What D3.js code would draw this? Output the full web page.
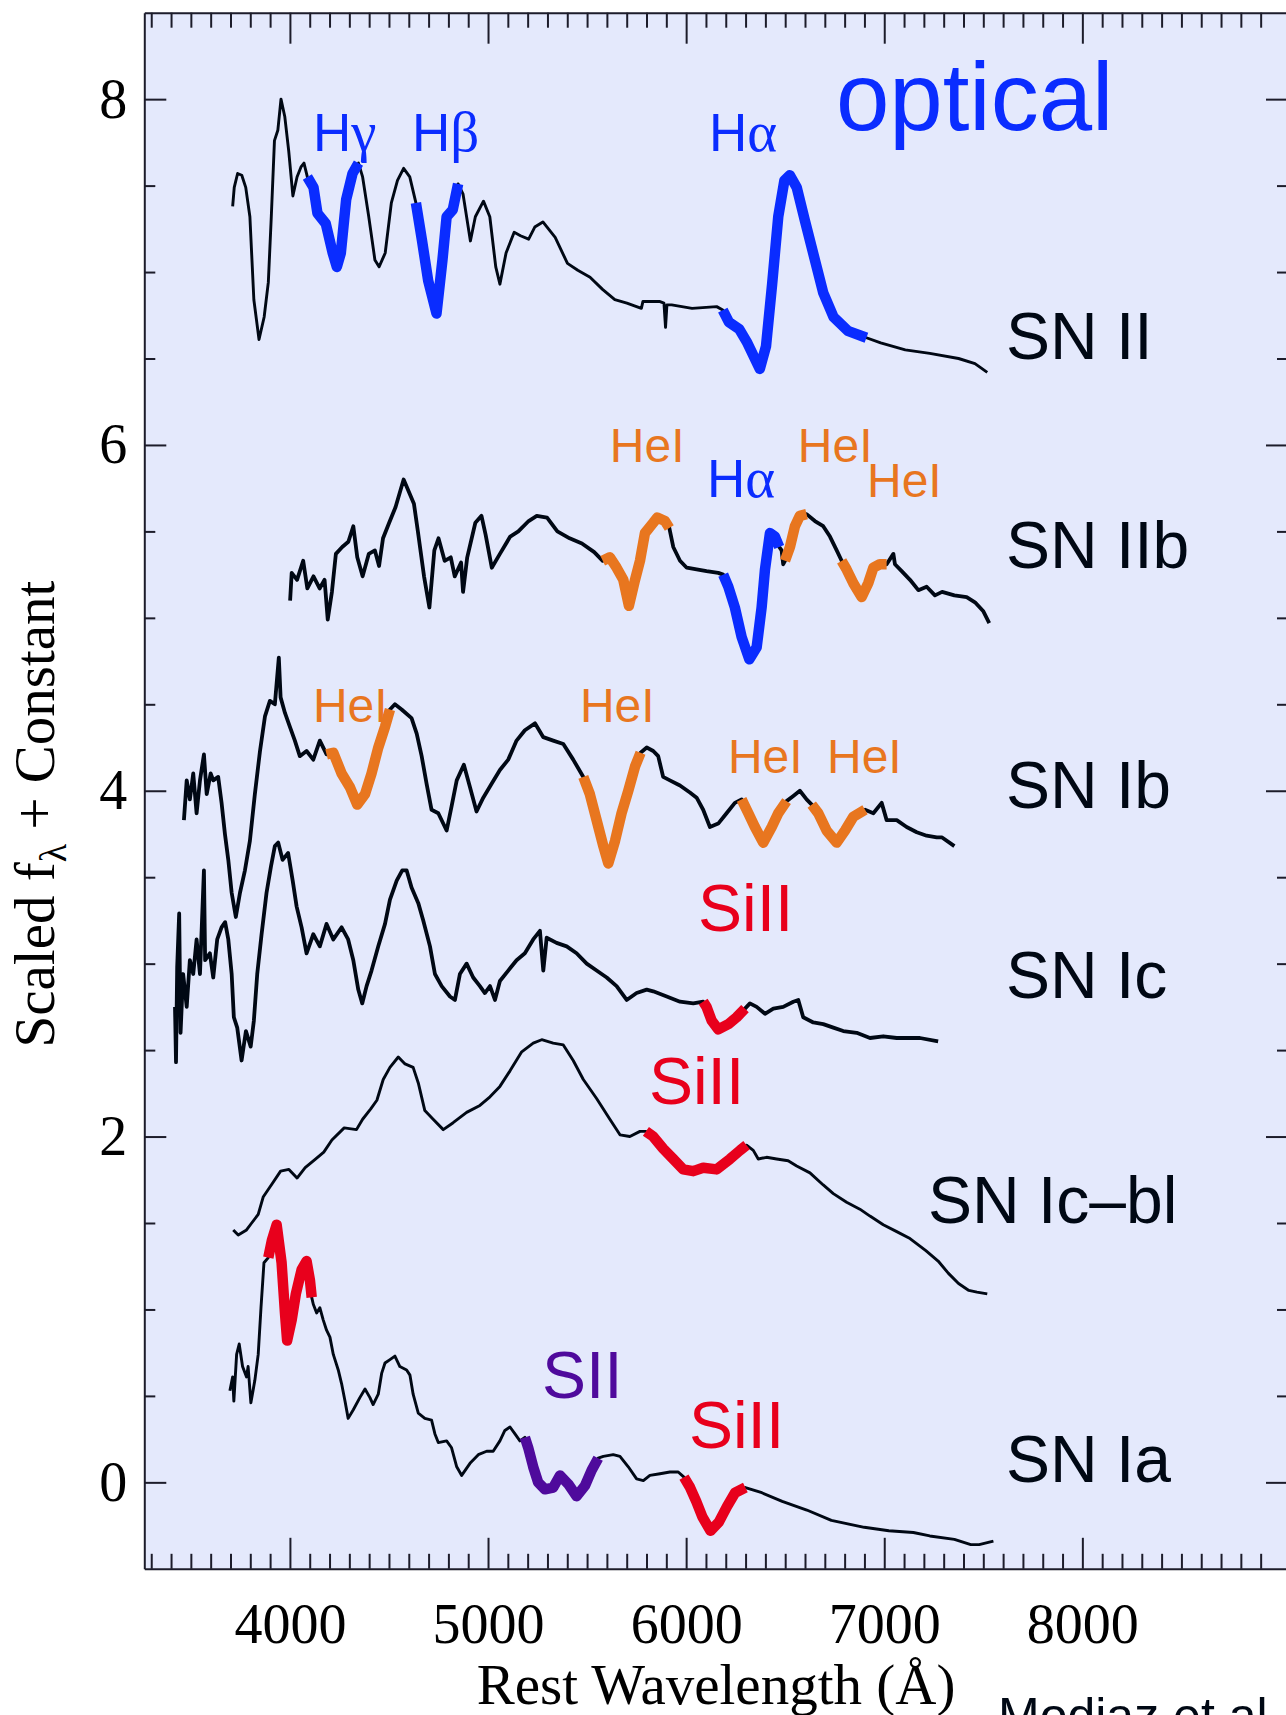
<!DOCTYPE html>
<html>
<head>
<meta charset="utf-8">
<script src="https://cdn.jsdelivr.net/npm/d3@7"></script>
<style>
  body { margin: 0; background: #fff; }
  svg { display: block; }
</style>
</head>
<body>
<div id="chart"></div>
<script>
// Spectra: [rest wavelength (Å), scaled flux + constant]
const snII = [
  [3711,7.38],[3719,7.49],[3736,7.57],[3757,7.56],[3777,7.49],[3798,7.32],[3818,6.84],[3844,6.61],[3870,6.74],[3891,6.94],
  [3906,7.32],[3922,7.76],[3939,7.82],[3955,8.00],[3974,7.90],[3994,7.70],[4015,7.44],[4036,7.55],[4057,7.61],[4071,7.63],
  [4088,7.55],[4119,7.49],[4139,7.34],[4181,7.28],[4216,7.11],[4237,7.03],[4257,7.11],[4284,7.42],[4316,7.57],[4346,7.63],
  [4367,7.55],[4398,7.32],[4429,7.07],[4450,7.03],[4481,7.11],[4512,7.40],[4543,7.53],[4574,7.60],[4605,7.55],[4636,7.40],
  [4667,7.18],[4698,6.95],[4740,6.76],[4770,7.07],[4791,7.32],[4822,7.36],[4849,7.51],[4874,7.45],[4911,7.18],[4936,7.32],
  [4977,7.41],[5009,7.32],[5039,7.03],[5060,6.93],[5091,7.11],[5132,7.23],[5164,7.21],[5205,7.19],[5236,7.26],[5277,7.29],
  [5339,7.20],[5401,7.05],[5453,7.01],[5515,6.97],[5578,6.90],[5640,6.84],[5701,6.82],[5774,6.79],[5782,6.83],[5865,6.83],
  [5888,6.82],[5896,6.68],[5903,6.81],[5927,6.81],[6030,6.79],[6154,6.80],[6185,6.78],[6216,6.71],[6268,6.67],[6309,6.59],
  [6372,6.44],[6403,6.57],[6434,6.93],[6465,7.32],[6496,7.53],[6523,7.56],[6558,7.49],[6599,7.30],[6641,7.11],[6692,6.88],
  [6744,6.74],[6816,6.66],[6910,6.62],[6982,6.59],[7106,6.55],[7230,6.53],[7375,6.50],[7458,6.47],[7520,6.42]
];
const snIIb = [
  [4001,5.10],[4009,5.26],[4036,5.22],[4067,5.33],[4088,5.17],[4119,5.24],[4150,5.17],[4175,5.22],[4191,4.99],[4212,5.15],
  [4232,5.37],[4264,5.41],[4295,5.44],[4320,5.53],[4340,5.35],[4367,5.24],[4398,5.37],[4429,5.39],[4450,5.30],[4470,5.46],
  [4501,5.55],[4533,5.64],[4574,5.80],[4626,5.66],[4646,5.50],[4677,5.24],[4704,5.06],[4729,5.39],[4750,5.46],[4781,5.33],
  [4812,5.35],[4832,5.24],[4864,5.32],[4874,5.15],[4895,5.35],[4936,5.55],[4967,5.59],[4988,5.48],[5019,5.29],[5060,5.37],
  [5112,5.47],[5153,5.50],[5205,5.56],[5246,5.59],[5298,5.58],[5350,5.50],[5412,5.46],[5474,5.43],[5536,5.38],[5579,5.33],
  [5615,5.35],[5649,5.29],[5683,5.22],[5711,5.07],[5742,5.22],[5767,5.33],[5792,5.49],[5834,5.55],[5854,5.58],[5893,5.56],
  [5915,5.52],[5935,5.41],[5969,5.33],[6003,5.29],[6053,5.28],[6103,5.27],[6162,5.26],[6187,5.25],[6213,5.18],[6246,5.06],
  [6280,4.89],[6319,4.76],[6356,4.83],[6381,5.06],[6398,5.28],[6423,5.49],[6448,5.47],[6470,5.41],[6482,5.39],[6490,5.31],
  [6499,5.33],[6524,5.41],[6549,5.53],[6574,5.59],[6608,5.60],[6650,5.56],[6692,5.53],[6726,5.47],[6760,5.39],[6785,5.33],
  [6810,5.28],[6844,5.20],[6886,5.12],[6919,5.20],[6945,5.29],[6978,5.31],[7012,5.31],[7046,5.37],[7054,5.31],[7088,5.27],
  [7130,5.22],[7172,5.16],[7214,5.18],[7256,5.13],[7292,5.15],[7354,5.13],[7416,5.12],[7458,5.09],[7499,5.04],[7530,4.97]
];
const snIb = [
  [3465,3.83],[3479,4.06],[3495,3.95],[3512,4.10],[3529,3.87],[3546,4.06],[3566,4.21],[3580,3.98],[3600,4.10],[3613,4.06],
  [3638,4.08],[3655,3.93],[3672,3.75],[3689,3.60],[3706,3.41],[3727,3.27],[3748,3.41],[3773,3.54],[3798,3.71],[3823,3.98],
  [3849,4.23],[3874,4.43],[3899,4.52],[3924,4.50],[3944,4.77],[3953,4.54],[3975,4.45],[4000,4.37],[4025,4.29],[4050,4.20],
  [4084,4.23],[4118,4.18],[4151,4.29],[4185,4.21],[4219,4.22],[4261,4.10],[4303,4.02],[4340,3.92],[4379,3.98],[4412,4.10],
  [4446,4.25],[4480,4.37],[4505,4.47],[4530,4.50],[4564,4.47],[4614,4.42],[4640,4.33],[4665,4.20],[4690,4.04],[4715,3.89],
  [4749,3.87],[4791,3.77],[4816,3.91],[4842,4.06],[4878,4.15],[4909,4.02],[4942,3.88],[4976,3.96],[5018,4.04],[5060,4.12],
  [5102,4.18],[5144,4.29],[5186,4.35],[5237,4.39],[5279,4.31],[5329,4.29],[5380,4.27],[5430,4.18],[5481,4.08],[5514,3.98],
  [5548,3.83],[5582,3.68],[5607,3.58],[5641,3.71],[5674,3.87],[5708,4.00],[5742,4.14],[5770,4.22],[5801,4.25],[5834,4.23],
  [5859,4.20],[5884,4.08],[5918,4.06],[5969,4.03],[6019,3.99],[6053,3.96],[6086,3.89],[6120,3.79],[6162,3.81],[6204,3.87],
  [6246,3.93],[6280,3.95],[6314,3.87],[6347,3.79],[6389,3.70],[6432,3.79],[6465,3.87],[6507,3.94],[6541,3.97],[6574,4.00],
  [6608,3.95],[6634,3.92],[6667,3.87],[6709,3.77],[6760,3.70],[6802,3.77],[6844,3.85],[6903,3.89],[6945,3.87],[6987,3.93],
  [7012,3.83],[7063,3.83],[7113,3.79],[7164,3.76],[7214,3.74],[7265,3.73],[7292,3.73],[7354,3.68]
];
const snIc = [
  [3420,2.75],[3425,2.43],[3431,2.98],[3441,3.29],[3448,2.60],[3461,2.94],[3479,2.75],[3495,3.02],[3512,2.94],[3529,3.14],
  [3546,2.94],[3566,3.54],[3572,3.02],[3596,3.06],[3613,2.92],[3633,3.14],[3655,3.21],[3673,3.24],[3689,3.14],[3706,2.94],
  [3717,2.69],[3734,2.63],[3756,2.44],[3778,2.61],[3802,2.52],[3818,2.67],[3835,2.94],[3857,3.17],[3882,3.41],[3904,3.56],
  [3924,3.68],[3941,3.70],[3963,3.60],[3991,3.64],[4014,3.48],[4034,3.33],[4059,3.21],[4084,3.06],[4118,3.17],[4151,3.10],
  [4185,3.23],[4219,3.14],[4261,3.21],[4294,3.14],[4320,3.02],[4345,2.85],[4365,2.77],[4387,2.87],[4412,2.96],[4446,3.10],
  [4480,3.23],[4505,3.37],[4539,3.48],[4567,3.54],[4589,3.54],[4614,3.44],[4648,3.35],[4673,3.25],[4707,3.10],[4732,2.94],
  [4766,2.87],[4808,2.81],[4833,2.79],[4858,2.94],[4892,3.00],[4925,2.92],[4959,2.87],[4984,2.83],[5010,2.87],[5035,2.79],
  [5060,2.90],[5102,2.96],[5144,3.02],[5186,3.06],[5228,3.14],[5262,3.19],[5279,2.96],[5296,3.15],[5346,3.12],[5397,3.10],
  [5447,3.06],[5498,3.00],[5548,2.96],[5599,2.92],[5649,2.87],[5700,2.79],[5750,2.83],[5801,2.85],[5834,2.84],[5902,2.81],
  [5969,2.78],[6036,2.77],[6086,2.78],[6103,2.75],[6129,2.67],[6162,2.62],[6213,2.65],[6255,2.69],[6297,2.74],[6322,2.77],
  [6356,2.75],[6398,2.71],[6440,2.74],[6490,2.75],[6541,2.78],[6566,2.79],[6591,2.69],[6642,2.66],[6692,2.65],[6743,2.63],
  [6793,2.61],[6861,2.60],[6928,2.57],[6995,2.58],[7063,2.57],[7130,2.57],[7180,2.57],[7272,2.55]
];
const snIcbl = [
  [3714,1.46],[3739,1.43],[3781,1.46],[3807,1.50],[3840,1.55],[3865,1.65],[3912,1.73],[3953,1.80],[3995,1.81],[4036,1.76],
  [4077,1.82],[4129,1.87],[4171,1.91],[4212,1.98],[4274,2.05],[4336,2.04],[4367,2.10],[4408,2.16],[4439,2.21],[4471,2.33],
  [4505,2.40],[4547,2.46],[4581,2.42],[4622,2.40],[4648,2.31],[4681,2.15],[4723,2.10],[4774,2.04],[4824,2.08],[4892,2.14],
  [4959,2.18],[5010,2.23],[5060,2.29],[5111,2.38],[5170,2.49],[5228,2.54],[5271,2.56],[5329,2.54],[5380,2.53],[5430,2.44],
  [5481,2.33],[5548,2.22],[5615,2.10],[5666,2.01],[5716,2.00],[5767,2.03],[5797,2.03],[5834,2.00],[5884,1.93],[5935,1.87],
  [5985,1.81],[6036,1.80],[6086,1.82],[6154,1.81],[6221,1.87],[6272,1.92],[6305,1.95],[6339,1.92],[6364,1.87],[6406,1.88],
  [6457,1.87],[6515,1.86],[6558,1.83],[6625,1.79],[6692,1.72],[6743,1.67],[6810,1.62],[6877,1.58],[6928,1.54],[6995,1.49],
  [7063,1.45],[7130,1.41],[7210,1.34],[7272,1.28],[7323,1.21],[7375,1.15],[7427,1.11],[7468,1.10],[7520,1.09]
];
const snIa = [
  [3697,0.53],[3711,0.61],[3717,0.47],[3731,0.74],[3744,0.80],[3761,0.67],[3781,0.61],[3789,0.67],[3803,0.46],[3823,0.59],
  [3840,0.74],[3854,1.01],[3869,1.27],[3891,1.30],[3909,1.40],[3933,1.49],[3958,1.27],[3975,0.98],[3986,0.82],[4009,0.94],
  [4030,1.09],[4059,1.23],[4084,1.28],[4101,1.17],[4110,1.07],[4118,1.03],[4135,0.98],[4151,1.01],[4168,0.94],[4185,0.88],
  [4202,0.84],[4219,0.74],[4244,0.65],[4261,0.57],[4278,0.47],[4294,0.37],[4320,0.42],[4353,0.49],[4379,0.54],[4404,0.49],
  [4420,0.45],[4446,0.51],[4463,0.63],[4480,0.69],[4505,0.71],[4530,0.73],[4555,0.67],[4589,0.65],[4606,0.62],[4622,0.51],
  [4648,0.40],[4681,0.37],[4715,0.36],[4732,0.28],[4749,0.23],[4791,0.24],[4816,0.20],[4842,0.09],[4867,0.04],[4909,0.11],
  [4951,0.16],[4993,0.18],[5026,0.18],[5060,0.24],[5085,0.30],[5111,0.32],[5136,0.28],[5161,0.24],[5186,0.26],[5203,0.20],
  [5228,0.09],[5253,0.00],[5287,-0.04],[5329,-0.03],[5363,0.04],[5405,-0.01],[5447,-0.08],[5489,-0.02],[5523,0.07],[5556,0.14],
  [5582,0.15],[5632,0.16],[5666,0.15],[5708,0.09],[5750,0.02],[5784,0.01],[5817,0.04],[5868,0.05],[5918,0.06],[5960,0.06],
  [5989,0.03],[6020,-0.03],[6051,-0.11],[6082,-0.20],[6123,-0.28],[6165,-0.23],[6206,-0.14],[6247,-0.06],[6299,-0.03],[6382,-0.06],
  [6485,-0.11],[6609,-0.16],[6733,-0.22],[6899,-0.26],[7023,-0.28],[7147,-0.29],[7230,-0.31],[7354,-0.33],[7437,-0.36],[7479,-0.36],
  [7551,-0.34]
];

// highlighted line features: [from Å, to Å, ion]
const hlII   = [[4088,4346,'H'],[4636,4849,'H'],[6185,6910,'H']];
const hlIIb  = [[5579,5915,'He'],[6187,6470,'H'],[6499,6608,'He'],[6785,7012,'He']];
const hlIb   = [[4185,4505,'He'],[5481,5770,'He'],[6280,6507,'He'],[6634,6903,'He']];
const hlIc   = [[6086,6297,'Si']];
const hlIcbl = [[5797,6305,'Si']];
const hlIa   = [[3891,4110,'Si'],[5186,5556,'S'],[5989,6299,'Si']];

// axis ticks
const xMajor = [4000, 5000, 6000, 7000, 8000];
const xMinor = d3.range(3300, 9000, 100).filter(v => v % 1000 !== 0);
const yMajor = [0, 2, 4, 6, 8];
const yMinor = [0.5, 1, 1.5, 2.5, 3, 3.5, 4.5, 5, 5.5, 6.5, 7, 7.5];

// labels
const snNames = ['SN II', 'SN IIb', 'SN Ib', 'SN Ic', 'SN Ic\u2013bl', 'SN Ia'];
const snNamePos = [[7614, 6.50], [7614, 5.29], [7614, 3.90], [7614, 2.80], [7221, 1.50], [7614, 0.00]];
const lineLabels = [
  ['H', '\u03b3', 4116, 7.70, 'H'],
  ['H', '\u03b2', 4616, 7.70, 'H'],
  ['H', '\u03b1', 6115, 7.70, 'H'],
  ['HeI', '', 5615, 5.90, 'He'],
  ['H', '\u03b1', 6105, 5.70, 'H'],
  ['HeI', '', 6564, 5.90, 'He'],
  ['HeI', '', 6913, 5.70, 'He'],
  ['HeI', '', 4116, 4.40, 'He'],
  ['HeI', '', 5464, 4.40, 'He'],
  ['HeI', '', 6211, 4.10, 'He'],
  ['HeI', '', 6711, 4.10, 'He'],
  ['SiII', '', 6060, 3.19, 'Si'],
  ['SiII', '', 5812, 2.19, 'Si'],
  ['SII', '', 5272, 0.49, 'S'],
  ['SiII', '', 6014, 0.20, 'Si']
];

// noisier spectra get a heavier pen so they read like the original
const spectra = [
  { data: snII, hl: hlII, width: 2.9 },
  { data: snIIb, hl: hlIIb, width: 3.8 },
  { data: snIb, hl: hlIb, width: 3.8 },
  { data: snIc, hl: hlIc, width: 3.8 },
  { data: snIcbl, hl: hlIcbl, width: 2.9 },
  { data: snIa, hl: hlIa, width: 2.9 }
];

const ionColor = { H: '#0a2cff', He: '#e8761f', Si: '#e8001c', S: '#4f0a9c' };
const ionSize = { H: 53, He: 48, Si: 66, S: 66 };
const serif = "'Liberation Serif', 'Times New Roman', serif";
const sans = "'Liberation Sans', Arial, Helvetica, sans-serif";
const ink = '#000814';
const axisColor = '#1c1c2a';

const W = 1286, H = 1715;

const svg = d3.select('#chart')
  .append('svg')
  .attr('width', W)
  .attr('height', H);

const x = d3.scaleLinear().domain([3265, 9038]).range([144.3, 1288]);
const y = d3.scaleLinear().domain([-0.5, 8.5]).range([1568.8, 12.7]);

// plot background
svg.append('rect')
  .attr('x', x.range()[0])
  .attr('y', y.range()[1])
  .attr('width', x.range()[1] - x.range()[0])
  .attr('height', y.range()[0] - y.range()[1])
  .attr('fill', '#e4e9fc');

// spectra
const line = d3.line().x(d => x(d[0])).y(d => y(d[1]));

spectra.forEach(s => {
  svg.append('path')
    .datum(s.data)
    .attr('d', line)
    .attr('fill', 'none')
    .attr('stroke', ink)
    .attr('stroke-width', s.width)
    .attr('stroke-linejoin', 'round');

  s.hl.forEach(([a, b, ion]) => {
    const seg = s.data.filter(d => d[0] >= a && d[0] <= b);
    svg.append('path')
      .datum(seg)
      .attr('d', line)
      .attr('fill', 'none')
      .attr('stroke', ionColor[ion])
      .attr('stroke-width', 10.5)
      .attr('stroke-linejoin', 'round');
  });
});

// axes
function drawAxis(axis, transform, labels) {
  const g = svg.append('g')
    .attr('transform', transform)
    .call(axis);
  g.attr('color', axisColor);
  g.selectAll('line').attr('stroke-width', 2);
  g.select('.domain').attr('stroke-width', 2);
  if (labels) {
    g.attr('font-family', serif).attr('font-size', 56);
    g.selectAll('text').attr('fill', '#000');
  }
  return g;
}

const bottomY = `translate(0,${y(-0.5)})`;
const topY = `translate(0,${y(8.5)})`;
const leftX = `translate(${x(3265)},0)`;
const rightX = `translate(${x(9038)},0)`;

drawAxis(d3.axisBottom(x).tickValues(xMajor).tickSize(-31).tickSizeOuter(0).tickPadding(34).tickFormat(d3.format('d')), bottomY, true);
drawAxis(d3.axisBottom(x).tickValues(xMinor).tickSize(-15).tickSizeOuter(0).tickFormat(''), bottomY).select('.domain').remove();
drawAxis(d3.axisTop(x).tickValues(xMajor).tickSize(-31).tickSizeOuter(0).tickFormat(''), topY);
drawAxis(d3.axisTop(x).tickValues(xMinor).tickSize(-15).tickSizeOuter(0).tickFormat(''), topY).select('.domain').remove();

drawAxis(d3.axisLeft(y).tickValues(yMajor).tickSize(-22).tickSizeOuter(0).tickPadding(17).tickFormat(d3.format('d')), leftX, true);
drawAxis(d3.axisLeft(y).tickValues(yMinor).tickSize(-11).tickSizeOuter(0).tickFormat(''), leftX).select('.domain').remove();
drawAxis(d3.axisRight(y).tickValues(yMajor).tickSize(-22).tickSizeOuter(0).tickFormat(''), rightX);
drawAxis(d3.axisRight(y).tickValues(yMinor).tickSize(-11).tickSizeOuter(0).tickFormat(''), rightX).select('.domain').remove();

// axis titles
svg.append('text')
  .attr('x', 716)
  .attr('y', 1704)
  .attr('text-anchor', 'middle')
  .attr('font-family', serif)
  .attr('font-size', 57)
  .attr('fill', '#000')
  .text('Rest Wavelength (\u00c5)');

const yTitle = svg.append('text')
  .attr('transform', 'translate(54,814) rotate(-90)')
  .attr('text-anchor', 'middle')
  .attr('font-family', serif)
  .attr('font-size', 57)
  .attr('fill', '#000');
yTitle.append('tspan').text('Scaled f');
yTitle.append('tspan').attr('font-size', 38).attr('dy', 12).text('\u03bb');
yTitle.append('tspan').attr('dy', -12).text(' + Constant');

// "optical" tag
svg.append('text')
  .attr('x', x(6756))
  .attr('y', y(7.82))
  .attr('font-family', sans)
  .attr('font-size', 96)
  .attr('fill', ionColor.H)
  .text('optical');

// supernova type names
svg.selectAll('text.sn')
  .data(snNames)
  .enter()
  .append('text')
  .attr('class', 'sn')
  .attr('x', (d, i) => x(snNamePos[i][0]))
  .attr('y', (d, i) => y(snNamePos[i][1]))
  .attr('font-family', sans)
  .attr('font-size', 66)
  .attr('fill', ink)
  .text(d => d);

// line identifications
lineLabels.forEach(([main, greek, wl, v, ion]) => {
  const t = svg.append('text')
    .attr('x', x(wl))
    .attr('y', y(v))
    .attr('font-family', sans)
    .attr('font-size', ionSize[ion])
    .attr('fill', ionColor[ion]);
  t.append('tspan').text(main);
  if (greek) t.append('tspan').attr('font-family', serif).attr('font-size', ionSize[ion] + 4).text(greek);
});

// credit, cut off at the bottom edge as in the original
svg.append('text')
  .attr('x', 998)
  .attr('y', 1733)
  .attr('font-family', sans)
  .attr('font-size', 50)
  .attr('fill', ink)
  .text('Modjaz et al.');
</script>
</body>
</html>
